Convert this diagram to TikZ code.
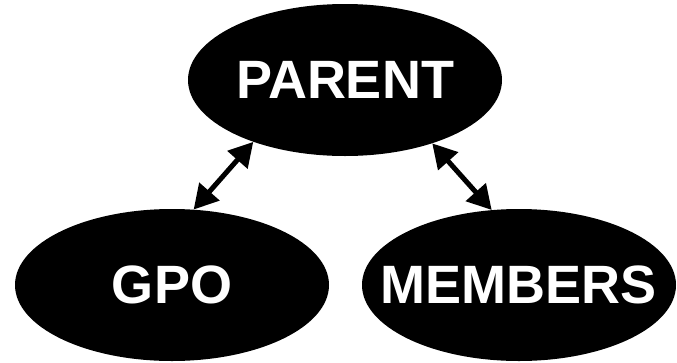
\documentclass[tikz,border=0pt]{standalone}
\usepackage{fontspec}
\setmainfont{Liberation Sans}
\usetikzlibrary{shapes.geometric,arrows.meta}
\tikzset{
  blob/.style={ellipse, fill=black, draw=none, inner sep=0pt,
    minimum width=314pt, minimum height=152pt},
  lbl/.style={text=white, inner sep=0pt, font=\fontsize{54}{60}\selectfont\bfseries},
  link/.style={line width=5pt, {Triangle[length=24pt,width=26pt]}-{Triangle[length=24pt,width=26pt]}}
}
\begin{document}
\begin{tikzpicture}[x=1pt,y=-1pt]
\useasboundingbox (0,0) rectangle (677,362);
\node[blob] (parent) at (345,80) {};
\node[blob] (gpo) at (172,285) {};
\node[blob] (members) at (519,285) {};
\node[lbl] (parentlbl) at (parent.center) {PARENT};
\node[lbl] (gpolbl) at (gpo.center) {GPO};
\node[lbl] (memberslbl) at (members.center) {MEMBERS};
\draw[link] (parent.214.6) -- (gpo.74.4);
\draw[link] (parent.324.4) -- (members.110.7);
\end{tikzpicture}
\end{document}
